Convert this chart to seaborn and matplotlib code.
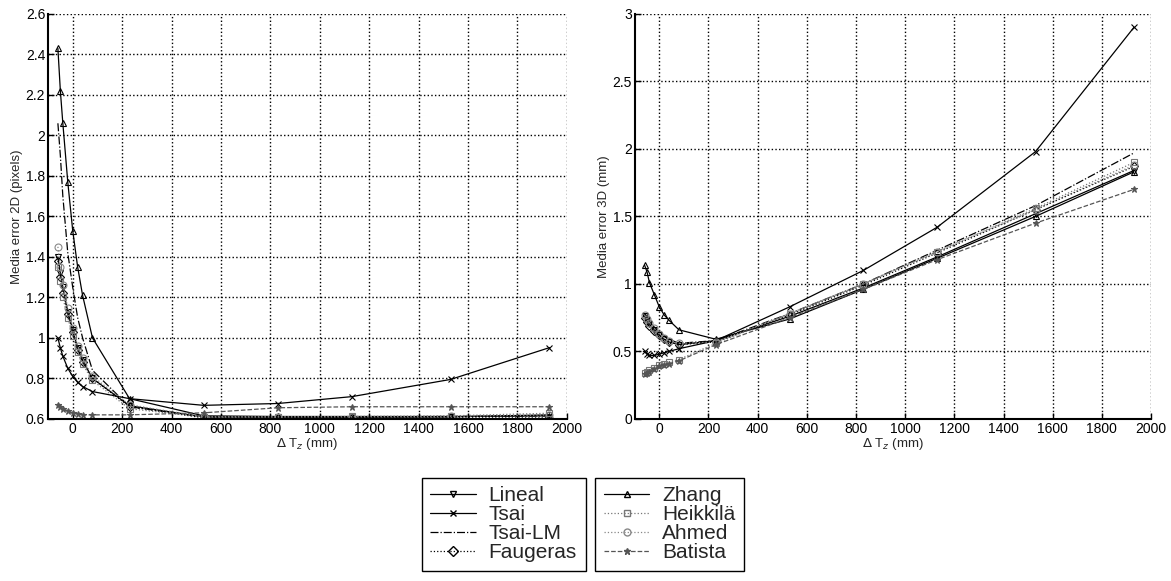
import matplotlib
matplotlib.use("Agg")
import matplotlib.pyplot as plt
import seaborn as sns
from matplotlib.lines import Line2D
from matplotlib.ticker import FuncFormatter

# values
x_tz = [-60, -50, -40, -20, 0, 20, 40, 80, 230, 530, 830, 1130, 1530, 1930]

lineal_2d = [1.40, 1.32, 1.25, 1.13, 1.04, 0.95, 0.89, 0.80, 0.665, 0.61, 0.608, 0.608, 0.61, 0.62]
tsai_2d = [1.00, 0.95, 0.91, 0.85, 0.81, 0.78, 0.76, 0.735, 0.70, 0.667, 0.676, 0.71, 0.795, 0.952]
tsailm_2d = [2.06, 1.90, 1.70, 1.42, 1.25, 1.10, 1.00, 0.84, 0.66, 0.61, 0.61, 0.61, 0.612, 0.615]
faugeras_2d = [1.38, 1.30, 1.22, 1.12, 1.03, 0.94, 0.88, 0.80, 0.66, 0.605, 0.605, 0.605, 0.605, 0.605]
zhang_2d = [2.43, 2.22, 2.06, 1.77, 1.53, 1.35, 1.21, 1.00, 0.70, 0.615, 0.612, 0.612, 0.612, 0.615]
heikkila_2d = [1.35, 1.28, 1.20, 1.10, 1.01, 0.93, 0.87, 0.79, 0.65, 0.61, 0.61, 0.612, 0.615, 0.628]
ahmed_2d = [1.45, 1.35, 1.26, 1.15, 1.05, 0.96, 0.90, 0.81, 0.67, 0.61, 0.61, 0.61, 0.612, 0.62]
batista_2d = [0.67, 0.66, 0.65, 0.64, 0.63, 0.625, 0.62, 0.62, 0.62, 0.63, 0.655, 0.66, 0.66, 0.66]

lineal_3d = [0.76, 0.73, 0.70, 0.66, 0.62, 0.59, 0.57, 0.55, 0.58, 0.76, 0.97, 1.20, 1.52, 1.84]
tsai_3d = [0.50, 0.48, 0.47, 0.47, 0.48, 0.49, 0.50, 0.52, 0.58, 0.83, 1.10, 1.42, 1.98, 2.90]
tsailm_3d = [0.78, 0.75, 0.72, 0.68, 0.64, 0.61, 0.59, 0.56, 0.58, 0.78, 1.00, 1.25, 1.58, 1.97]
faugeras_3d = [0.75, 0.72, 0.69, 0.65, 0.62, 0.59, 0.57, 0.55, 0.57, 0.77, 0.99, 1.23, 1.55, 1.87]
zhang_3d = [1.14, 1.09, 1.01, 0.92, 0.83, 0.77, 0.73, 0.66, 0.59, 0.74, 0.96, 1.19, 1.50, 1.83]
heikkila_3d = [0.34, 0.35, 0.36, 0.38, 0.40, 0.41, 0.42, 0.44, 0.56, 0.78, 1.00, 1.24, 1.56, 1.90]
ahmed_3d = [0.77, 0.74, 0.71, 0.67, 0.63, 0.60, 0.58, 0.56, 0.57, 0.78, 1.00, 1.24, 1.55, 1.88]
batista_3d = [0.33, 0.34, 0.35, 0.37, 0.39, 0.40, 0.41, 0.43, 0.55, 0.75, 0.96, 1.18, 1.45, 1.70]

methods = ["Lineal", "Tsai", "Tsai-LM", "Faugeras", "Zhang", "Heikkilä", "Ahmed", "Batista"]
data_2d = [lineal_2d, tsai_2d, tsailm_2d, faugeras_2d, zhang_2d, heikkila_2d, ahmed_2d, batista_2d]
data_3d = [lineal_3d, tsai_3d, tsailm_3d, faugeras_3d, zhang_3d, heikkila_3d, ahmed_3d, batista_3d]

# line style per method: colour, linestyle, marker
styles = {
    "Lineal": ("black", "-", "v"),
    "Tsai": ("black", "-", "x"),
    "Tsai-LM": ("black", "-.", ""),
    "Faugeras": ("black", ":", "D"),
    "Zhang": ("black", "-", "^"),
    "Heikkilä": ("#777777", ":", "s"),
    "Ahmed": ("#888888", ":", "o"),
    "Batista": ("#555555", "--", "*"),
}

sns.set_style("ticks")
plt.rcParams["font.family"] = ["Liberation Sans", "DejaVu Sans"]

fig = plt.figure(figsize=(11.71, 5.81), dpi=100)
ax1 = fig.add_axes([0.041, 0.279, 0.443, 0.697])
ax2 = fig.add_axes([0.542, 0.279, 0.441, 0.697])


def draw(ax, series):
    for name, vals in zip(methods, series):
        col, ls, mk = styles[name]
        face = col if mk in ("x", "*") else "none"
        sns.lineplot(x=x_tz, y=vals, ax=ax, color=col, linestyle=ls, linewidth=0.9,
                     marker=mk if mk else None, markersize=5 if mk != "D" else 4,
                     markerfacecolor=face, markeredgecolor=col, markeredgewidth=0.8)


draw(ax1, data_2d)
draw(ax2, data_3d)

fmt = FuncFormatter(lambda v, p: f"{v:g}")
for ax, ylim, step in [(ax1, (0.6, 2.6), 0.2), (ax2, (0, 3), 0.5)]:
    ax.set_xlim(-100, 2000)
    ax.set_ylim(*ylim)
    ax.set_xticks(range(0, 2001, 200))
    n = int(round((ylim[1] - ylim[0]) / step))
    ax.set_yticks([ylim[0] + i * step for i in range(n + 1)])
    ax.yaxis.set_major_formatter(fmt)
    ax.grid(True, linestyle=":", color="black", linewidth=1.0)
    ax.set_axisbelow(True)
    for s in ["top", "right"]:
        ax.spines[s].set_visible(False)
    for s in ["left", "bottom"]:
        ax.spines[s].set_linewidth(1.5)
        ax.spines[s].set_color("black")
    ax.tick_params(direction="in", length=4, width=1, labelsize=10, colors="black", pad=2)
    ax.set_xlabel(r"$\Delta$ T$_z$ (mm)", fontsize=9.5, labelpad=0)

ax1.set_ylabel("Media error 2D (pixels)", fontsize=9.5, labelpad=2)
ax2.set_ylabel("Media error 3D (mm)", fontsize=9.5, labelpad=2)


def handle(name):
    col, ls, mk = styles[name]
    face = col if mk in ("x", "*") else "none"
    return Line2D([], [], color=col, linestyle=ls, linewidth=0.9,
                  marker=mk if mk else None, markersize=5,
                  markerfacecolor=face, markeredgecolor=col)


for names, left in [(methods[:4], 0.360), (methods[4:], 0.508)]:
    leg = fig.legend([handle(n) for n in names], names, loc="upper left",
                     bbox_to_anchor=(left, 0.178), fontsize=15, frameon=True,
                     fancybox=False, edgecolor="black", framealpha=1,
                     handlelength=2.2, handletextpad=0.6, labelspacing=0.0,
                     borderpad=0.42, borderaxespad=0)
    leg.get_frame().set_linewidth(1.0)

fig.savefig("out.png", dpi=100)
